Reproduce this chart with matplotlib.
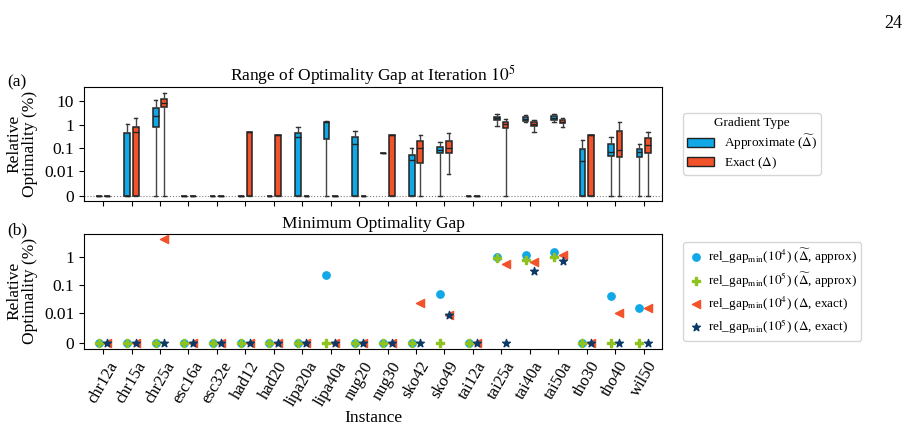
import numpy as np
import matplotlib
matplotlib.use("Agg")
import matplotlib.pyplot as plt
from matplotlib.patches import Patch

plt.rcParams['font.family'] = 'serif'
plt.rcParams['font.serif'] = ['Liberation Serif', 'DejaVu Serif']
plt.rcParams['mathtext.fontset'] = 'stix'

instances = ['chr12a', 'chr15a', 'chr25a', 'esc16a', 'esc32e', 'had12', 'had20',
             'lipa20a', 'lipa40a', 'nug20', 'nug30', 'sko42', 'sko49', 'tai12a',
             'tai25a', 'tai40a', 'tai50a', 'tho30', 'tho40', 'wil50']

# (a) box statistics, relative gap in %
approx_whislo = [0, 0, 0, 0, 0, 0, 0, 0, 0, 0, 0.065, 0, 0, 0, 0.85, 1.3, 1.37, 0, 0, 0]
approx_q1 = [0, 0, 0.78, 0, 0, 0, 0, 0, 0.24, 0, 0.065, 0, 0.065, 0, 1.58, 1.5, 1.65, 0, 0.05, 0.043]
approx_med = [0, 0, 2.4, 0, 0, 0, 0, 0.30, 1.3, 0.15, 0.065, 0.031, 0.09, 0, 1.9, 1.8, 2.0, 0.028, 0.068, 0.074]
approx_q3 = [0, 0.45, 5.2, 0, 0, 0, 0, 0.45, 1.33, 0.315, 0.065, 0.051, 0.117, 0, 2.15, 2.1, 2.3, 0.097, 0.16, 0.097]
approx_whishi = [0, 1.05, 10.7, 0, 0, 0, 0, 0.83, 1.38, 0.55, 0.065, 0.11, 0.194, 0, 2.7, 2.5, 2.7, 0.23, 0.3, 0.158]

exact_whislo = [0, 0, 0, 0, 0, 0, 0, 0, 0, 0, 0, 0, 0.0073, 0, 0, 0.5, 0.78, 0, 0, 0]
exact_q1 = [0, 0, 5.6, 0, 0, 0, 0, 0, 0, 0, 0, 0.023, 0.065, 0, 0.71, 0.88, 1.14, 0, 0.044, 0.063]
exact_med = [0, 0.52, 8.3, 0, 0, 0.5, 0.38, 0, 0, 0, 0.38, 0.106, 0.1, 0, 1.07, 1.07, 1.37, 0.37, 0.088, 0.14]
exact_q3 = [0, 0.83, 11.7, 0, 0, 0.5, 0.38, 0, 0, 0, 0.38, 0.21, 0.21, 0, 1.29, 1.25, 1.65, 0.37, 0.56, 0.28]
exact_whishi = [0, 1.9, 22, 0, 0, 0.5, 0.38, 0, 0, 0, 0.38, 0.38, 0.44, 0, 1.73, 1.65, 2.0, 0.37, 1.28, 0.51]

# (b) minimum gaps
gap_1e4_approx = [0, 0, 0, 0, 0, 0, 0, 0, 0.234, 0, 0, 0, 0.049, 0, 1.0, 1.16, 1.48, 0, 0.041, 0.016]
gap_1e5_approx = [0, 0, 0, 0, 0, 0, 0, 0, 0, 0, 0, 0, 0, 0, 0.89, 0.78, 0.94, 0, 0, 0]
gap_1e4_exact = [0, 0, 4.1, 0, 0, 0, 0, 0, 0, 0, 0, 0.023, 0.0085, 0, 0.55, 0.64, 1.14, 0, 0.0102, 0.016]
gap_1e5_exact = [0, 0, 0, 0, 0, 0, 0, 0, 0, 0, 0, 0, 0.0082, 0, 0, 0.32, 0.72, 0, 0, 0]

blue = '#10A8E6'
red = '#F2532A'
green = '#8DC21F'
navy = '#0C3A68'

def fwd(y):
    return np.log10(np.clip(np.asarray(y, dtype=float) + 0.001, 1e-9, None))

def inv(z):
    return 10 ** np.asarray(z, dtype=float) - 0.001

x = np.arange(len(instances))

fig = plt.figure(figsize=(9.09, 4.25), dpi=100)
ax1 = fig.add_axes([0.0924, 0.527, 0.636, 0.268])
ax2 = fig.add_axes([0.0924, 0.179, 0.636, 0.271])

def make_stats(lo, q1, med, q3, hi):
    return [dict(whislo=a, q1=b, med=c, q3=d, whishi=e, fliers=[])
            for a, b, c, d, e in zip(lo, q1, med, q3, hi)]

ax1.axhline(0, color='grey', ls=':', lw=0.8, zorder=0)
for stats, off, col in [
        (make_stats(approx_whislo, approx_q1, approx_med, approx_q3, approx_whishi), -0.15, blue),
        (make_stats(exact_whislo, exact_q1, exact_med, exact_q3, exact_whishi), 0.15, red)]:
    ax1.bxp(stats, positions=x + off, widths=0.2, patch_artist=True, showfliers=False,
            boxprops=dict(facecolor=col, edgecolor='#222222', lw=1.1),
            medianprops=dict(color='#222222', lw=1.0),
            whiskerprops=dict(color='#444444', lw=1.0),
            capprops=dict(color='#333333', lw=1.0), capwidths=0.12)

ax2.scatter(x - 0.15, gap_1e4_approx, s=28, marker='o', color=blue, zorder=3,
            label=r'rel_gap$_{\mathrm{min}}$($10^4$) ($\widetilde{\Delta}$, approx)')
ax2.scatter(x - 0.15, gap_1e5_approx, s=34, marker='P', color=green, zorder=4,
            label=r'rel_gap$_{\mathrm{min}}$($10^5$) ($\widetilde{\Delta}$, approx)')
ax2.scatter(x + 0.15, gap_1e4_exact, s=34, marker='<', color=red, zorder=3,
            label=r'rel_gap$_{\mathrm{min}}$($10^4$) ($\Delta$, exact)')
ax2.scatter(x + 0.15, gap_1e5_exact, s=34, marker='*', color=navy, zorder=4,
            label=r'rel_gap$_{\mathrm{min}}$($10^5$) ($\Delta$, exact)')

for ax in (ax1, ax2):
    ax.set_yscale('function', functions=(fwd, inv))
    ax.set_xlim(-0.67, 19.65)
    ax.set_xticks(x)
    ax.set_ylabel('Relative\nOptimality (%)', fontsize=12.5, linespacing=1.0, labelpad=4)
    ax.tick_params(labelsize=12.5)

ax1.set_ylim(-0.00037, 38)
ax1.set_yticks([0, 0.01, 0.1, 1, 10])
ax1.set_yticklabels(['0', '0.01', '0.1', '1', '10'])
ax1.set_xticklabels([])
ax1.set_title('Range of Optimality Gap at Iteration $10^5$', fontsize=12.5, pad=4)

ax2.set_ylim(-0.00038, 6.3)
ax2.set_yticks([0, 0.01, 0.1, 1])
ax2.set_yticklabels(['0', '0.01', '0.1', '1'])
ax2.set_xticklabels(instances, rotation=60, fontsize=12)
ax2.set_xlabel('Instance', fontsize=12.5, labelpad=1)
ax2.set_title('Minimum Optimality Gap', fontsize=12.5, pad=4)

handles = [Patch(facecolor=blue, edgecolor='#222222', label=r'Approximate ($\widetilde{\Delta}$)'),
           Patch(facecolor=red, edgecolor='#222222', label=r'Exact ($\Delta$)')]
ax1.legend(handles=handles, title='Gradient Type', loc='center left',
           bbox_to_anchor=(1.025, 0.5), fontsize=9.5, title_fontsize=9.5,
           labelspacing=0.25, borderpad=0.3)
ax2.legend(loc='center left', bbox_to_anchor=(1.025, 0.5), fontsize=9.5,
           handletextpad=0.3, handlelength=1.2, labelspacing=0.35, borderpad=0.35)

fig.text(0.008, 0.805, '(a)', fontsize=12.5, va='center')
fig.text(0.008, 0.459, '(b)', fontsize=12.5, va='center')
fig.text(0.993, 0.934, '24', fontsize=13, ha='right', va='baseline')

fig.savefig('out.png', dpi=100)
